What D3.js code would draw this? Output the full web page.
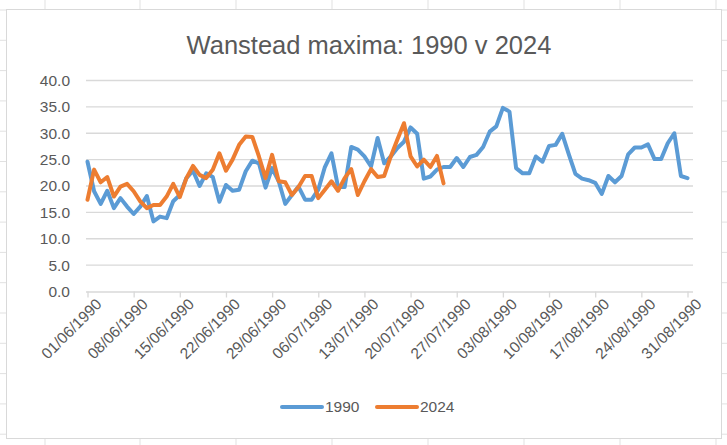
<!DOCTYPE html>
<html>
<head>
<meta charset="utf-8">
<script src="https://cdn.jsdelivr.net/npm/d3@7"></script>
<style>
  body { margin: 0; background: #fff; }
  text { font-family: "Liberation Sans", Arial, sans-serif; fill: #595959; }
</style>
</head>
<body>
<svg width="727" height="445"></svg>
<script>
// daily maxima, 1 June to 31 August
const START = "1990-06-01";
const SERIES_NAMES = ["1990", "2024"];
const MAX_1990 = [
  24.6, 19.0, 16.6, 19.1, 15.8, 17.7, 16.1, 14.7, 16.1, 18.1,
  13.3, 14.2, 13.9, 17.1, 18.3, 21.5, 22.9, 20.0, 22.4, 21.7,
  17.0, 20.2, 19.1, 19.3, 22.8, 24.8, 24.3, 19.7, 23.4, 20.9,
  16.6, 18.3, 19.9, 17.4, 17.4, 19.3, 23.6, 26.2, 19.8, 19.8,
  27.4, 26.9, 25.6, 23.7, 29.1, 24.3, 25.6, 27.2, 28.4, 31.1,
  29.9, 21.4, 21.8, 23.1, 23.6, 23.6, 25.3, 23.6, 25.5, 25.9,
  27.4, 30.3, 31.3, 34.8, 34.1, 23.4, 22.4, 22.4, 25.6, 24.6,
  27.6, 27.8, 29.9, 26.0, 22.3, 21.4, 21.1, 20.6, 18.5, 21.9,
  20.7, 21.9, 26.0, 27.3, 27.3, 27.9, 25.1, 25.1, 28.1, 30.0,
  21.9, 21.5
];
const MAX_2024 = [
  17.4, 23.1, 20.7, 21.7, 18.0, 19.9, 20.4, 19.0, 17.1, 15.8,
  16.4, 16.4, 18.0, 20.4, 17.9, 21.5, 23.8, 22.1, 21.5, 23.1,
  26.2, 22.9, 25.0, 27.8, 29.4, 29.3, 25.6, 21.5, 25.9, 20.9,
  20.7, 18.3, 19.8, 21.9, 21.9, 17.7, 19.3, 20.9, 19.1, 21.5,
  23.2, 18.3, 20.9, 23.2, 21.7, 21.9, 25.6, 28.8, 31.9, 25.6,
  23.7, 25.0, 23.6, 25.7, 20.5
];
const Y_TICKS = [0, 5, 10, 15, 20, 25, 30, 35, 40];
const COLORS = ["#5b9bd5", "#ed7d31"];

const svg = d3.select("svg");

// spreadsheet cells showing around the chart
const cells = svg.append("g").attr("stroke", "#e1e1e1");
[45, 140, 236, 332, 428, 524, 620, 716].forEach(x => {
  cells.append("line").attr("x1", x).attr("x2", x).attr("y1", 0).attr("y2", 445);
});
d3.range(10, 445, 30.3).forEach(y => {
  cells.append("line").attr("x1", 0).attr("x2", 727).attr("y1", y).attr("y2", y);
});

// chart area
svg.append("rect")
  .attr("x", 6.5).attr("y", 9.5).attr("width", 715).attr("height", 429)
  .attr("fill", "#fff").attr("stroke", "#d9d9d9");

const start = d3.utcParse("%Y-%m-%d")(START);
const day = i => d3.utcDay.offset(start, i);

const x = d3.scaleUtc().domain([day(0), day(91)]).range([87.5, 687.5]);
const y = d3.scaleLinear().domain([0, 40]).range([291.5, 80.5]);

// gridlines
svg.append("g")
  .selectAll("line")
  .data(Y_TICKS.slice(1))
  .join("line")
  .attr("x1", 86).attr("x2", 693)
  .attr("y1", d => y(d)).attr("y2", d => y(d))
  .attr("stroke", "#d9d9d9").attr("stroke-width", 1.3);

// y labels
svg.append("g")
  .selectAll("text")
  .data(Y_TICKS)
  .join("text")
  .attr("x", 70).attr("y", d => y(d))
  .attr("dy", "0.35em")
  .attr("text-anchor", "end")
  .style("font-size", "15.5px")
  .text(d => d.toFixed(1));

// x axis
const xAxis = svg.append("g")
  .attr("transform", `translate(0,${y(0)})`)
  .call(d3.axisBottom(x)
    .tickValues(d3.range(0, 92, 7).map(day))
    .tickFormat(d3.utcFormat("%d/%m/%Y"))
    .tickSize(6)
    .tickSizeOuter(0));
xAxis.select(".domain").attr("stroke", "#d9d9d9").attr("stroke-width", 1.3)
  .attr("d", `M86,0.5H693`);
xAxis.selectAll(".tick line").attr("stroke", "#d9d9d9").attr("stroke-width", 1.3);
xAxis.selectAll(".tick text")
  .attr("fill", "#595959")
  .style("font-size", "15.5px")
  .attr("text-anchor", "end")
  .attr("transform", "translate(7,6) rotate(-45)")
  .attr("dy", "0.7em")
  .attr("y", 0)
  .attr("x", 0);

// lines
const line = d3.line()
  .x((d, i) => x(day(i)))
  .y(d => y(d));

[MAX_1990, MAX_2024].forEach((vals, k) => {
  svg.append("path")
    .datum(vals)
    .attr("fill", "none")
    .attr("stroke", COLORS[k])
    .attr("stroke-width", 4)
    .attr("stroke-linejoin", "round")
    .attr("stroke-linecap", "round")
    .attr("d", line);
});

// title
svg.append("text")
  .attr("x", 369).attr("y", 54)
  .attr("text-anchor", "middle")
  .style("font-size", "25.5px")
  .text("Wanstead maxima: 1990 v 2024");

// legend
const legend = svg.append("g");
[[282, 325], [377, 420]].forEach(([lx, tx], k) => {
  legend.append("line")
    .attr("x1", lx).attr("x2", lx + 40).attr("y1", 407).attr("y2", 407)
    .attr("stroke", COLORS[k]).attr("stroke-width", 4).attr("stroke-linecap", "round");
  legend.append("text")
    .attr("x", tx).attr("y", 407).attr("dy", "0.35em")
    .style("font-size", "15.5px")
    .text(SERIES_NAMES[k]);
});
</script>
</body>
</html>
